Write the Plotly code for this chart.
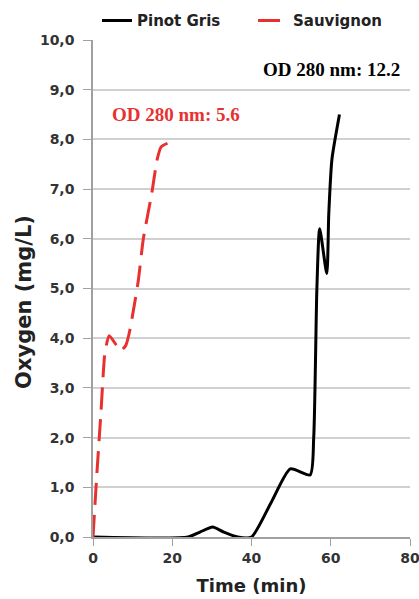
import plotly.graph_objects as go

# Data
pg_time = [0, 24, 27, 30.2, 33, 36.5, 40, 45, 49.8, 54.8, 55.7, 56.5, 57.2, 59.0, 59.5, 60.3, 62.2]
pg_oxygen = [0, 0, 0.1, 0.2, 0.1, 0, 0, 0.7, 1.37, 1.25, 2.0, 5.0, 6.2, 5.3, 6.5, 7.6, 8.5]

sv_time = [0, 1, 2, 3, 4.1, 7.0, 8.3, 9.3, 11.4, 12.7, 14.8, 16.2, 17.2, 19.0]
sv_oxygen = [0, 1.3, 2.5, 3.7, 4.05, 3.75, 3.86, 4.16, 5.14, 6.0, 6.9, 7.6, 7.85, 7.93]

y_ticks = [0, 1, 2, 3, 4, 5, 6, 7, 8, 9, 10]
x_ticks = [0, 20, 40, 60, 80]

FONT = "DejaVu Sans"

fig = go.Figure()
fig.add_trace(go.Scatter(x=pg_time, y=pg_oxygen, mode="lines", name="<b>Pinot Gris</b>",
                         line=dict(color="black", width=3, shape="spline", smoothing=0.6)))
fig.add_trace(go.Scatter(x=sv_time, y=sv_oxygen, mode="lines", name="<b>Sauvignon</b>",
                         line=dict(color="#e8312f", width=3, dash="22px,10px", shape="spline", smoothing=0.5)))

fig.add_annotation(x=1.0, y=9.4, xref="paper", yref="y", text="<b>OD 280 nm: 12.2</b>",
                   showarrow=False, xanchor="right", yanchor="middle", xshift=-8,
                   font=dict(family="Liberation Serif", size=19, color="black"))
fig.add_annotation(x=4.3, y=8.5, xref="x", yref="y", text="<b>OD 280 nm: 5.6</b>",
                   showarrow=False, xanchor="left", yanchor="middle",
                   font=dict(family="Liberation Serif", size=19, color="#e8312f"))
# y-axis title placed like the reference (slightly below the axis centre)
fig.add_annotation(x=-0.2177, y=0.473, xref="paper", yref="paper", text="<b>Oxygen (mg/L)</b>",
                   textangle=-90, showarrow=False, xanchor="center", yanchor="middle",
                   font=dict(family=FONT, size=21, color="#222222"))

fig.update_layout(
    width=419, height=599,
    margin=dict(l=93, r=9, t=40, b=62),
    paper_bgcolor="white", plot_bgcolor="white",
    separators=",.",
    font=dict(family=FONT, color="#333333"),
    showlegend=True,
    legend=dict(orientation="h", xref="container", yref="container",
                x=97 / 419, xanchor="left", y=0.993, yanchor="top",
                font=dict(family=FONT, size=15, color="#222222"),
                entrywidth=111, entrywidthmode="pixels",
                bgcolor="rgba(0,0,0,0)"),
)
fig.update_xaxes(range=[0, 80], tickvals=x_ticks, showgrid=False, zeroline=False,
                 showline=True, linecolor="#a0a0a0", linewidth=1.5,
                 ticks="outside", ticklen=7, tickcolor="#a0a0a0",
                 ticklabeloverflow="allow",
                 tickfont=dict(family=FONT, size=14, color="#333333", weight="bold"),
                 title=dict(text="<b>Time (min)</b>", font=dict(family=FONT, size=18, color="#222222"), standoff=15),
                 automargin=False)
fig.update_yaxes(range=[0, 10], tickvals=y_ticks, tickformat=".1f", showgrid=True,
                 gridcolor="#d0d0d0", gridwidth=1.5, zeroline=False,
                 showline=True, linecolor="#a0a0a0", linewidth=1.5,
                 ticks="outside", ticklen=8, tickcolor="#a0a0a0",
                 ticklabelstandoff=6,
                 tickfont=dict(family=FONT, size=14, color="#333333", weight="bold"),
                 automargin=False)

fig.write_html("out.html", config={"displayModeBar": False},
               post_script="document.body.style.margin='0';")
